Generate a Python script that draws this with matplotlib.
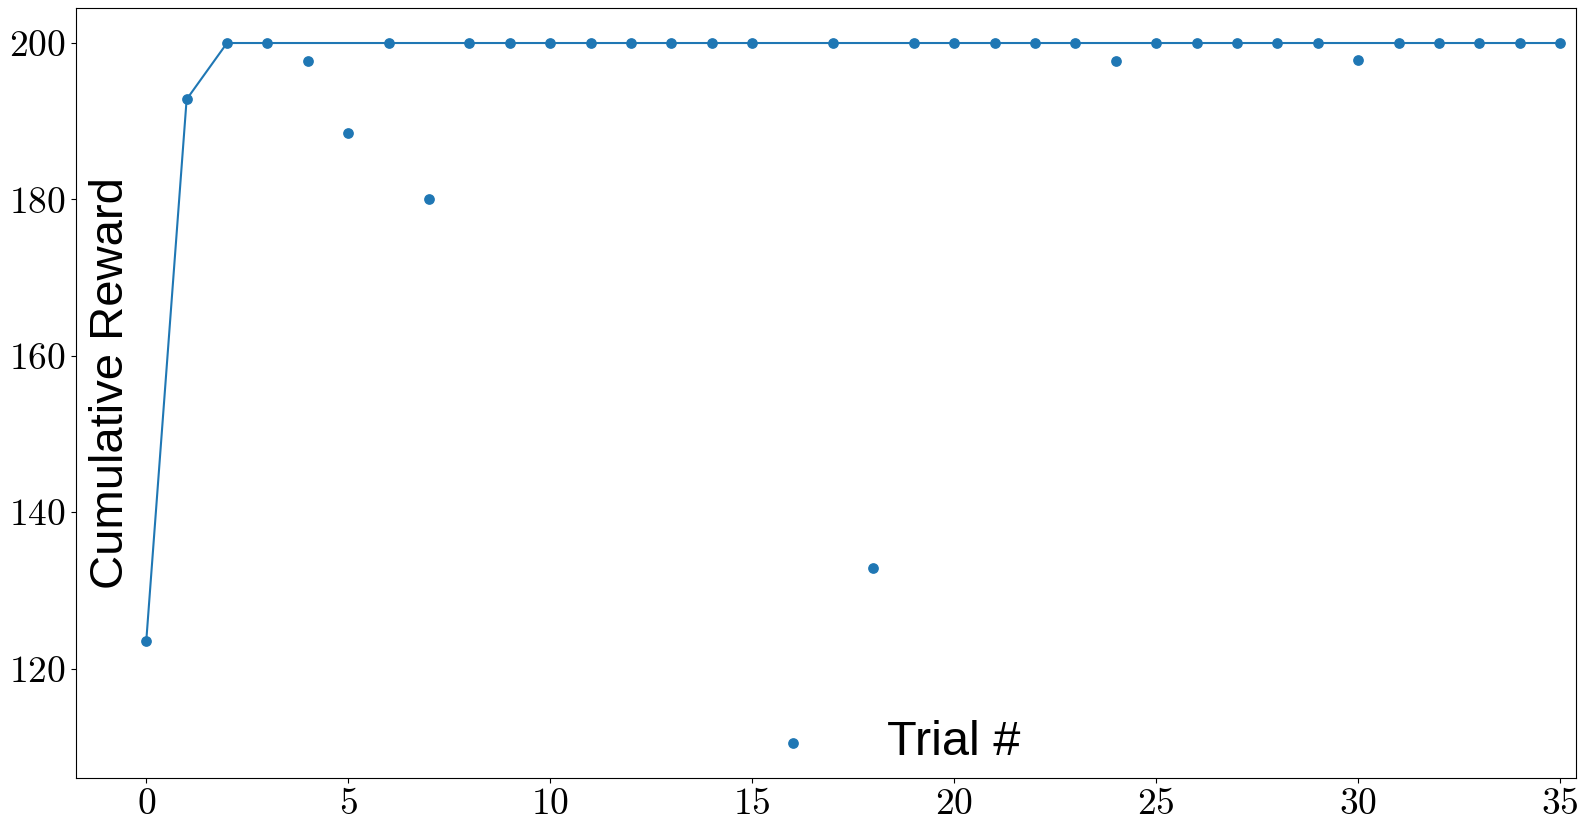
import numpy as np
import matplotlib
matplotlib.use("Agg")
import matplotlib.pyplot as plt

trials = np.arange(36)
rewards = np.array([123.5, 192.8, 200, 200, 197.7, 188.5, 200, 180.1, 200, 200,
                    200, 200, 200, 200, 200, 200, 110.5, 200, 132.9, 200,
                    200, 200, 200, 200, 197.7, 200, 200, 200, 200, 200,
                    197.8, 200, 200, 200, 200, 200])
best_so_far = np.maximum.accumulate(rewards)

plt.rcParams["font.family"] = "cmr10"
plt.rcParams["axes.formatter.use_mathtext"] = True

fig = plt.figure(figsize=(15.82, 8.26), dpi=100)
ax = fig.add_axes([0.048, 0.058, 0.9482, 0.9323])

ax.plot(trials, best_so_far, color="#1f77b4", linewidth=1.5)
ax.scatter(trials, rewards, color="#1f77b4", s=45, zorder=3)

ax.set_xlim(-1.74, 35.39)
ax.set_xticks([0, 5, 10, 15, 20, 25, 30, 35])
ax.set_yticks([120, 140, 160, 180, 200])
ax.tick_params(labelsize=27)

fig.text(111 / 1582, 1 - 383 / 826, "Cumulative Reward", rotation=90,
         family="Liberation Sans", fontsize=34, ha="center", va="center")
fig.text(887 / 1582, 1 - 755 / 826, "Trial #", family="Liberation Sans",
         fontsize=35, ha="left", va="baseline")

fig.savefig("out.png", dpi=100)
